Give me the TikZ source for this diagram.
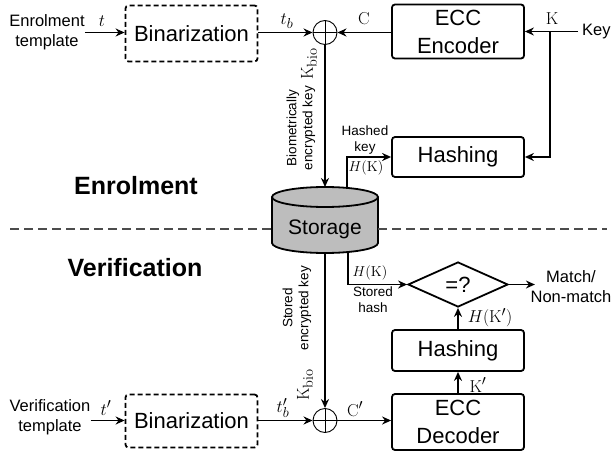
\documentclass[tikz,border=0pt]{standalone}
\usepackage[no-math]{fontspec}
\setmainfont{Liberation Sans}
\usetikzlibrary{arrows.meta,shapes.geometric}
\tikzset{
  lw/.style={line width=1.8pt},
  blk/.style={draw,lw,rounded corners=3pt,minimum width=132pt,align=center,inner sep=0pt,
              font=\fontsize{22}{28}\selectfont},
  dblk/.style={blk,dash pattern=on 5pt off 3pt},
  arr/.style={lw,-{Stealth[length=9pt,width=8pt]}},
  lbl/.style={font=\fontsize{16.5}{20}\selectfont,align=center,inner sep=0pt},
  sml/.style={font=\fontsize{13.5}{16}\selectfont,align=center,inner sep=0pt},
  mlbl/.style={font=\fontsize{19}{22}\selectfont,inner sep=0pt},
  slbl/.style={font=\fontsize{15}{18}\selectfont,inner sep=0pt},
  phase/.style={font=\fontsize{25}{30}\selectfont\bfseries,inner sep=0pt},
  xorc/.style={draw,line width=0.9pt,circle,minimum size=24pt,inner sep=0pt,
     path picture={\draw[line width=0.9pt] (path picture bounding box.north) -- (path picture bounding box.south)
                    (path picture bounding box.west) -- (path picture bounding box.east);}},
}
\begin{document}
\begin{tikzpicture}[x=1pt,y=-1pt]
\useasboundingbox (0,0) rectangle (611,452);

% ---------- Enrolment ----------
\node[lbl] (enrt) at (47,32) {Enrolment\\template};
\node[dblk,minimum height=56pt] (bin1) at (191.5,33.5) {Binarization};
\node[xorc] (xor1) at (325,32.5) {};
\node[blk,minimum height=54pt] (enc) at (458,31.5) {ECC\\Encoder};
\node[lbl,anchor=west,inner xsep=4pt] (key) at (578,31.5) {Key};
\node[blk,minimum height=40pt] (hash1) at (458,157) {Hashing};
\coordinate (kj) at (550,31.5);

\draw[arr] (enrt.east |- xor1) -- (bin1.west |- xor1);
\draw[arr] (bin1.east |- xor1) -- (xor1);
\draw[arr] (enc.west |- xor1) -- (xor1);
\draw[arr] (key.west) -- (enc.east);
\draw[arr] (kj) |- (hash1.east);

\node[mlbl] (lt) at (102,21) {$t$};
\node[mlbl] (ltb) at (287,21) {$t_b$};
\node[mlbl] (lc) at (364,19) {$\mathrm{C}$};
\node[mlbl] (lk) at (552,19) {$\mathrm{K}$};

% ---------- Storage ----------
\fill[gray!52] (272,197) -- (272,243)
  .. controls (272,248.5) and (295.7,253) .. (325,253)
  .. controls (354.3,253) and (378,248.5) .. (378,243) -- (378,197) -- cycle;
\draw[lw] (272,197) -- (272,243)
  .. controls (272,248.5) and (295.7,253) .. (325,253)
  .. controls (354.3,253) and (378,248.5) .. (378,243) -- (378,197);
\draw[lw,fill=gray!52] (272,197) .. controls (272,191.5) and (295.7,187) .. (325,187)
  .. controls (354.3,187) and (378,191.5) .. (378,197)
  .. controls (378,202.5) and (354.3,207) .. (325,207)
  .. controls (295.7,207) and (272,202.5) .. (272,197) -- cycle;
\node[font=\fontsize{21}{25}\selectfont,inner sep=0pt] (stor) at (325,229) {Storage};
\coordinate (stortop) at (325,187);
\coordinate (storbot) at (325,253);
\coordinate (s1) at (347,189);
\coordinate (s2) at (348,251);

\draw[arr] (xor1) -- (stortop);
\draw[arr] (s1) |- (hash1.west);

\node[mlbl,rotate=90] (kb1) at (309,64) {$\mathrm{K}_{\mathrm{bio}}$};
\node[sml,rotate=90] (bek) at (301,128) {Biometrically\\encrypted key};
\node[sml] (hk) at (365,140) {Hashed\\key};
\node[slbl] (hk1) at (366,168) {$H(\mathrm{K})$};

% ---------- separator & phase titles ----------
\draw[line width=1.3pt,dash pattern=on 9pt off 5pt,gray!60!black] (10,229) -- (272,229);
\draw[line width=1.3pt,dash pattern=on 9pt off 5pt,gray!60!black] (378,229) -- (607,229);
\node[phase] (ph1) at (136,186) {Enrolment};
\node[phase] (ph2) at (135,268) {Verification};

% ---------- Verification ----------
\node[draw,lw,diamond,minimum width=100pt,minimum height=45pt,inner sep=0pt,
      font=\fontsize{22}{26}\selectfont] (dia) at (458,284.5) {=?};
\node[lbl] (mt) at (571,287) {Match/\\Non-match};
\node[blk,minimum height=41pt] (hash2) at (458,350.5) {Hashing};
\node[blk,minimum height=56pt] (dec) at (458,422) {ECC\\Decoder};
\node[xorc] (xor2) at (325,420.5) {};
\node[dblk,minimum height=53pt] (bin2) at (191.5,421) {Binarization};
\node[lbl] (vt) at (50,417) {Verification\\template};

\draw[arr] (s2) |- (dia.west);
\draw[arr] (dia.east) -- ++(26,0) coordinate (mend);
\draw[arr] (hash2.north) -- (dia.south);
\draw[arr] (dec.north) -- (hash2.south);
\draw[arr] (storbot) -- (xor2);
\draw[arr] (xor2) -- (xor2 -| dec.west);
\draw[arr] (bin2.east |- xor2) -- (xor2);
\draw[arr] (vt.east |- xor2) -- (bin2.west |- xor2);

\node[slbl] (hk2) at (370,273) {$H(\mathrm{K})$};
\node[sml] (sh) at (373,300) {Stored\\hash};
\node[mlbl] (hkp) at (490,318) {$H(\mathrm{K}')$};
\node[mlbl] (kp) at (478,385) {$\mathrm{K}'$};
\node[mlbl] (cp) at (355,409) {$\mathrm{C}'$};
\node[mlbl] (ltp) at (106,408) {$t'$};
\node[mlbl] (ltbp) at (283,408) {$t_b'$};
\node[sml,rotate=90] (sek) at (297,308) {Stored\\encrypted key};
\node[mlbl,rotate=90] (kb2) at (305,385) {$\mathrm{K}_{\mathrm{bio}}$};
\end{tikzpicture}
\end{document}
